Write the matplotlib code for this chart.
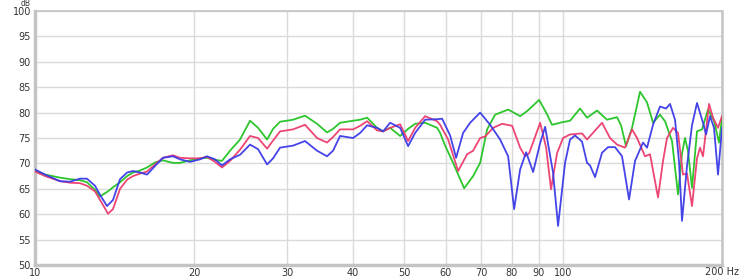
import matplotlib
matplotlib.use("Agg")
import matplotlib.pyplot as plt
from matplotlib.ticker import FixedLocator, NullLocator, FixedFormatter

# ---- data (frequency in Hz, level in dB) ----
blue_f = [10.0, 10.45, 11.15, 11.65, 12.17, 12.54, 12.99, 13.28, 13.69, 14.05, 14.49, 14.94, 15.33, 15.81,
          16.30, 16.88, 17.47, 18.25, 18.82, 19.66, 20.54, 21.17, 21.92, 22.60, 23.41, 24.45, 25.54, 26.45,
          27.51, 28.24, 29.11, 30.81, 32.46, 34.21, 35.73, 36.68, 37.82, 40.04, 41.28, 42.56, 44.45, 45.63,
          47.05, 49.14, 50.89, 52.47, 54.81, 57.75, 59.02, 61.12, 62.73, 64.68, 66.69, 69.66, 72.76, 76.01,
          78.71, 80.79, 82.93, 85.13, 87.77, 90.50, 92.49, 95.73, 97.85, 100.88, 103.10, 105.37, 108.63,
          111.03, 112.49, 114.97, 118.53, 121.68, 125.45, 129.33, 133.35, 136.88, 141.74, 144.23, 148.06,
          152.64, 156.68, 159.44, 162.96, 165.82, 168.00, 171.70, 175.48, 179.35, 184.11, 186.53, 189.82,
          193.16, 196.56, 200.0]
blue_db = [68.8, 67.8, 66.5, 66.4, 67.0, 67.0, 65.6, 63.8, 61.6, 62.8, 66.9, 68.2, 68.5, 68.2,
           67.8, 69.5, 71.1, 71.4, 70.8, 70.3, 70.8, 71.4, 70.8, 69.6, 70.8, 71.7, 73.7, 72.8,
           69.8, 71.0, 73.1, 73.5, 74.4, 72.5, 71.4, 72.5, 75.4, 75.0, 76.0, 77.5, 77.0, 76.3,
           78.0, 77.0, 73.4, 76.0, 78.6, 78.7, 78.8, 75.5, 71.1, 76.0, 78.0, 80.0, 77.6, 74.7,
           71.4, 61.0, 68.8, 72.2, 68.3, 74.0, 77.2, 68.2, 57.7, 70.1, 74.7, 75.5, 74.3,
           70.1, 69.6, 67.3, 72.1, 73.2, 73.2, 71.4, 62.9, 70.5, 74.1, 73.1, 77.6,
           81.2, 80.8, 81.7, 78.6, 70.3, 58.7, 69.5, 77.5, 81.9, 78.0, 75.7, 79.3,
           77.0, 67.8, 77.0]

red_f = [10.0, 10.45, 11.15, 11.65, 12.17, 12.54, 12.99, 13.28, 13.75, 14.05, 14.49, 14.94, 15.33, 15.81,
         16.30, 16.88, 17.47, 18.25, 18.82, 19.66, 20.54, 21.17, 21.92, 22.60, 23.41, 24.45, 25.54, 26.45,
         27.51, 28.24, 29.11, 30.81, 32.46, 34.21, 35.73, 36.68, 37.82, 40.04, 41.28, 42.56, 44.45, 45.63,
         47.05, 49.14, 50.89, 52.47, 54.81, 57.75, 58.51, 60.59, 63.28, 65.82, 67.56, 69.66, 71.19, 73.72,
         76.67, 80.09, 82.93, 84.76, 86.26, 90.50, 92.90, 94.90, 97.42, 100.0, 103.10, 108.63, 111.03,
         118.53, 122.74, 126.55, 131.03, 135.10, 138.08, 142.98, 146.13, 151.32, 154.65, 157.37, 161.54,
         165.10, 168.73, 171.70, 175.48, 179.35, 181.71, 184.11, 188.99, 192.32, 196.56, 200.0]
red_db = [68.4, 67.5, 66.5, 66.2, 66.1, 65.6, 64.5, 62.8, 60.1, 61.0, 65.0, 66.8, 67.5, 68.0,
          68.4, 69.8, 71.1, 71.6, 71.1, 71.0, 71.0, 71.3, 70.3, 69.2, 70.5, 72.7, 75.4, 75.0,
          72.9, 74.5, 76.3, 76.7, 77.6, 75.0, 74.1, 75.2, 76.7, 76.7, 77.4, 78.3, 76.5, 76.3,
          77.0, 77.7, 74.4, 77.0, 79.3, 78.3, 77.6, 74.7, 68.5, 71.8, 72.5, 75.0, 75.3, 77.0,
          77.8, 77.4, 73.1, 71.4, 72.0, 78.0, 73.1, 64.9, 72.0, 75.0, 75.7, 75.9, 74.7,
          78.0, 75.0, 73.7, 73.1, 76.7, 75.0, 71.4, 71.8, 63.3, 70.5, 75.0, 77.0,
          76.0, 67.8, 68.0, 61.6, 71.0, 73.1, 71.4, 81.7, 79.0, 77.0, 79.3]

green_f = [10.0, 10.45, 11.15, 11.65, 12.17, 12.54, 12.99, 13.28, 13.75, 14.05, 14.49, 14.94, 15.33, 15.81,
           16.30, 16.88, 17.47, 18.25, 18.82, 19.66, 20.54, 21.17, 21.92, 22.60, 23.41, 24.45, 25.54, 26.45,
           27.51, 28.24, 29.11, 30.81, 32.46, 34.21, 35.73, 36.68, 37.82, 40.04, 41.28, 42.56, 44.45, 45.63,
           47.05, 49.14, 50.89, 52.47, 54.81, 57.75, 58.51, 59.80, 61.92, 64.96, 67.56, 69.66, 71.82, 74.37,
           78.71, 82.93, 85.51, 90.10, 92.90, 95.32, 99.57, 103.10, 107.69, 111.03, 115.98, 121.15, 126.55,
           128.77, 131.60, 135.10, 139.90, 144.23, 148.06, 152.64, 156.00, 160.84, 165.10, 168.00, 170.21,
           172.45, 175.48, 179.35, 183.31, 188.17, 193.16, 197.42, 200.0]
green_db = [68.5, 67.8, 67.2, 66.9, 66.7, 66.3, 64.8, 63.5, 64.5, 65.3, 66.3, 67.5, 68.2, 68.6,
            69.2, 70.2, 70.6, 70.1, 70.1, 70.6, 71.0, 71.1, 70.7, 70.5, 72.5, 74.7, 78.4, 77.0,
            74.7, 76.8, 78.2, 78.6, 79.4, 77.8, 76.1, 76.8, 78.0, 78.4, 78.6, 79.0, 77.0, 76.3,
            77.0, 75.4, 76.8, 77.8, 78.0, 77.0, 76.0, 73.5, 70.1, 65.1, 67.5, 70.1, 76.7, 79.6,
            80.6, 79.3, 80.3, 82.5, 80.0, 77.6, 78.1, 78.4, 80.8, 79.0, 80.4, 78.6, 79.1,
            77.5, 73.4, 77.0, 84.1, 82.0, 78.0, 79.6, 78.3, 74.4, 63.9, 71.9, 75.0,
            72.4, 65.2, 76.3, 76.7, 80.6, 78.4, 74.1, 79.0]

x_ticks = [10, 20, 30, 40, 50, 60, 70, 80, 90, 100, 200]
x_labels = ["10", "20", "30", "40", "50", "60", "70", "80", "90", "100", ""]
last_x_label = "200 Hz"
y_ticks = [50, 55, 60, 65, 70, 75, 80, 85, 90, 95, 100]
y_unit = "dB"

# ---- figure ----
fig = plt.figure(figsize=(7.4, 2.8), dpi=100)
ax = fig.add_axes([35 / 740, 15 / 280, (722 - 35) / 740, (265 - 11) / 280])
ax.set_xscale("log")
ax.set_xlim(10, 200)
ax.set_ylim(50, 100)

ax.xaxis.set_major_locator(FixedLocator(x_ticks))
ax.xaxis.set_major_formatter(FixedFormatter(x_labels))
ax.xaxis.set_minor_locator(NullLocator())
ax.set_yticks(y_ticks)
ax.yaxis.set_minor_locator(NullLocator())

ax.grid(True, which="major", color="#dadada", linewidth=1.0)
ax.set_axisbelow(True)
ax.tick_params(length=0, labelsize=7, colors="#333333", pad=3)
ax.tick_params(axis="x", pad=2)

for side, lw in (("left", 2.5), ("bottom", 2.5), ("right", 1.8), ("top", 1.2)):
    ax.spines[side].set_color("#c4c4c4")
    ax.spines[side].set_linewidth(lw)

ax.plot(green_f, green_db, color="#22c322", lw=1.3, alpha=0.95, zorder=3)
ax.plot(red_f, red_db, color="#ec3c6c", lw=1.3, alpha=0.95, zorder=4)
ax.plot(blue_f, blue_db, color="#3a3ae8", lw=1.3, alpha=0.95, zorder=5)

fig.text(26 / 740, 1 - 3.5 / 280, y_unit, fontsize=5.5, color="#333333", ha="center", va="center")
fig.text(739 / 740, 1 - 272 / 280, last_x_label, fontsize=7, color="#333333", ha="right", va="center")

fig.savefig("out.png", dpi=100, facecolor="white")
